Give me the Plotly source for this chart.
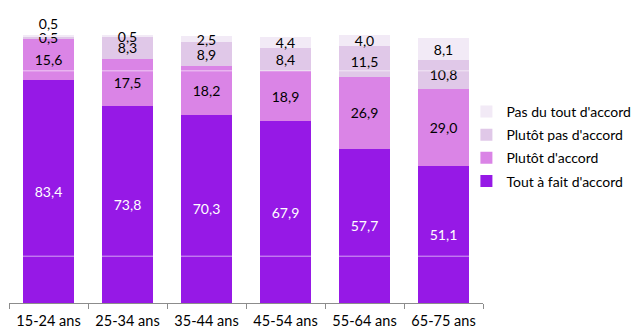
import plotly.graph_objects as go

# Age groups and answer shares (%)
categories = ["15-24 ans", "25-34 ans", "35-44 ans", "45-54 ans", "55-64 ans", "65-75 ans"]
tout_a_fait = [83.4, 73.8, 70.3, 67.9, 57.7, 51.1]
plutot_accord = [15.6, 17.5, 18.2, 18.9, 26.9, 29.0]
plutot_pas = [0.5, 8.3, 8.9, 8.4, 11.5, 10.8]
pas_du_tout = [0.5, 0.5, 2.5, 4.4, 4.0, 8.1]

series = [
    ("Tout à fait d'accord", tout_a_fait, "#9619E6", "white"),
    ("Plutôt d'accord", plutot_accord, "#DA84E6", "black"),
    ("Plutôt pas d'accord", plutot_pas, "#E0C8E8", "black"),
    ("Pas du tout d'accord", pas_du_tout, "#F2EAF6", "black"),
]

FONT = "Lato, Carlito, Calibri, sans-serif"


def fmt(v):
    return f"{v:.1f}".replace(".", ",")


fig = go.Figure()
n = len(series)
for i, (name, vals, color, tcolor) in enumerate(series):
    last = i == n - 1
    # the thin top band of the first group has its label set above the bar
    positions = ["outside" if (last and j == 0) else "inside" for j in range(len(vals))]
    fig.add_trace(go.Bar(
        name=name,
        x=categories,
        y=vals,
        marker=dict(color=color, line=dict(width=0)),
        text=[fmt(v) for v in vals],
        textposition=positions,
        insidetextanchor="middle",
        textangle=0,
        textfont=dict(family=FONT, size=14, color=tcolor),
        outsidetextfont=dict(family=FONT, size=14, color="black"),
        cliponaxis=False,
        legendgroup=name,
        legendrank=n - i,
    ))

# light rules drawn over the columns
for yv in (17.5, 86.8):
    fig.add_shape(type="line", xref="paper", x0=0, x1=1, yref="y", y0=yv, y1=yv,
                  line=dict(color="rgba(255,255,255,0.6)", width=1), layer="above")

fig.update_layout(
    width=633, height=332,
    margin=dict(l=9, r=150, t=35, b=29, autoexpand=False),
    barmode="stack",
    bargap=0.355,
    paper_bgcolor="white",
    plot_bgcolor="white",
    separators=", ",
    font=dict(family=FONT, size=14, color="black"),
    uniformtext=dict(minsize=14, mode="show"),
    showlegend=True,
    legend=dict(
        traceorder="grouped",
        tracegroupgap=2,
        x=0.965, xanchor="left",
        y=0.773, yanchor="top",
        font=dict(family=FONT, size=14, color="black"),
        bgcolor="rgba(0,0,0,0)",
    ),
    xaxis=dict(
        showline=True, linecolor="#8c8c8c", linewidth=1,
        ticks="outside", tickson="boundaries", ticklen=5, tickcolor="#8c8c8c",
        tickfont=dict(family=FONT, size=14.5, color="black"),
        ticklabelstandoff=5,
        showgrid=False,
    ),
    yaxis=dict(
        range=[0, 100.2], visible=False, showgrid=False, zeroline=False,
    ),
)

fig.write_html("out.html")
